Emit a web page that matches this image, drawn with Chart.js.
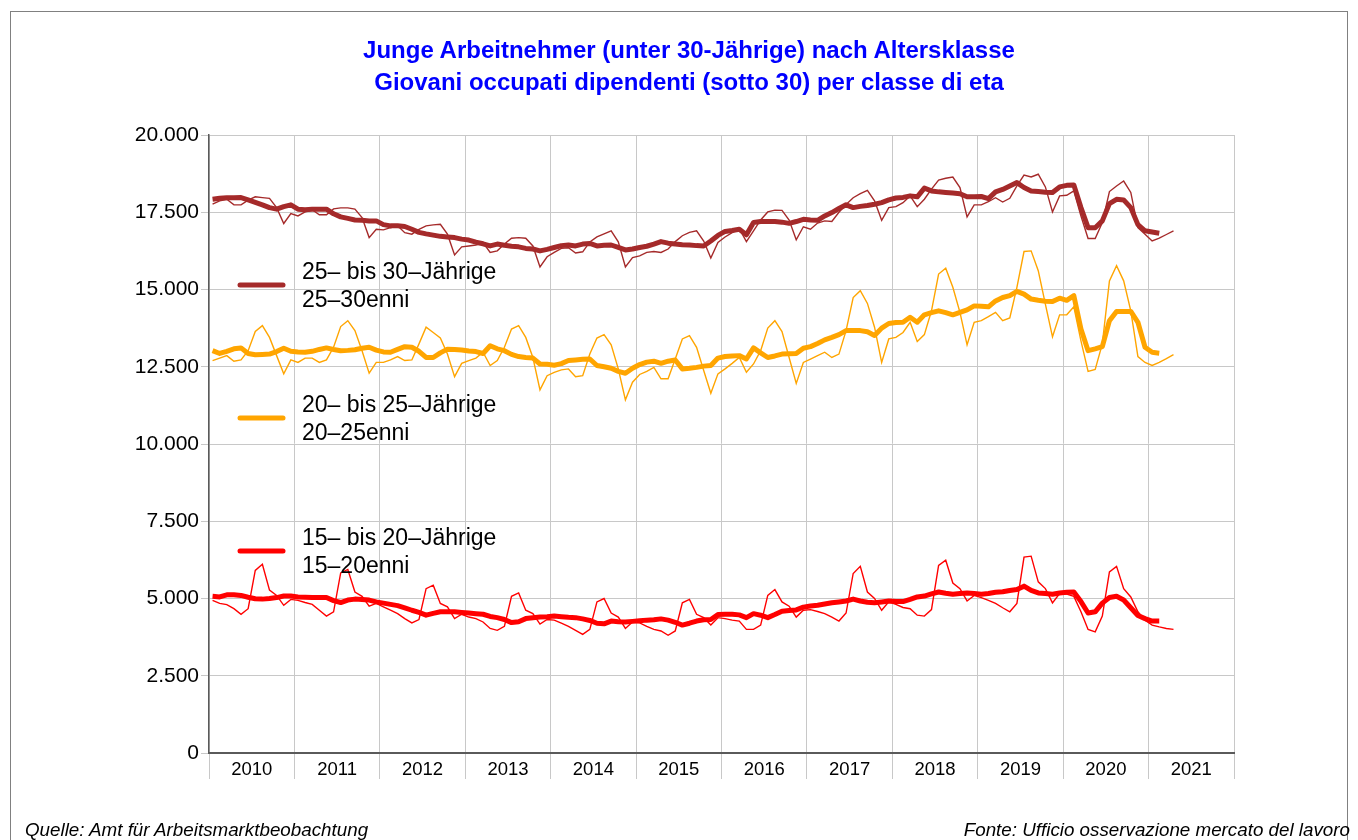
<!DOCTYPE html>
<html>
<head>
<meta charset="utf-8">
<title>Junge Arbeitnehmer nach Altersklasse</title>
<script src="https://cdn.jsdelivr.net/npm/chart.js@4.4.0/dist/chart.umd.min.js"></script>
<style>
  html, body { margin: 0; padding: 0; background: #fff; }
  #wrap { position: relative; width: 1358px; height: 840px; overflow: hidden; font-family: "Liberation Sans", Arial, sans-serif; }
  #frame { position: absolute; left: 10px; top: 11px; width: 1336px; height: 900px; border: 1px solid #808080; }
  #title { position: absolute; left: 189px; width: 1000px; top: 34px; text-align: center; color: #0000ff; font-weight: bold; font-size: 24px; line-height: 32px; }
  #chart { position: absolute; left: 0; top: 0; }
  .src { position: absolute; top: 819px; font-style: italic; font-size: 18.8px; line-height: 22px; color: #000; white-space: nowrap; }
</style>
</head>
<body>
<div id="wrap">
  <div id="frame"></div>
  <canvas id="chart" width="1358" height="840"></canvas>
  <div id="title">Junge Arbeitnehmer (unter 30-Jährige) nach Altersklasse<br>Giovani occupati dipendenti (sotto 30) per classe di eta</div>
  <div class="src" style="left:25px;">Quelle: Amt für Arbeitsmarktbeobachtung</div>
  <div class="src" style="right:8px;">Fonte: Ufficio osservazione mercato del lavoro</div>
</div>
<script>
// Jahre auf der x-Achse (Monatswerte ab Jänner 2010)
const yearLabels = ['2010', '2011', '2012', '2013', '2014', '2015', '2016', '2017', '2018', '2019', '2020', '2021'];

const seriesNamesDe = ['25– bis 30–Jährige', '20– bis 25–Jährige', '15– bis 20–Jährige'];
const seriesNamesIt = ['25–30enni', '20–25enni', '15–20enni'];
const seriesColors = ['#a52a2a', '#ffa500', '#ff0000'];

// 25-30: Monatswerte (dünn) und Trend (dick)
const age25to30Raw = [
  17760, 17870, 17920, 17740, 17740, 17890, 18000, 17975, 17950, 17650, 17135, 17460,
  17380, 17510, 17580, 17420, 17420, 17610, 17640, 17640, 17600, 17330, 16680, 16950,
  16930, 17000, 17060, 16840, 16790, 16950, 17060, 17090, 17110, 16790, 16120, 16380,
  16410, 16440, 16520, 16200, 16250, 16470, 16660, 16680, 16660, 16410, 15730, 16060,
  16200, 16330, 16350, 16180, 16220, 16540, 16700, 16800, 16900, 16540, 15730, 16030,
  16090, 16200, 16230, 16200, 16310, 16550, 16740, 16850, 16900, 16570, 16020, 16520,
  16700, 16840, 16970, 16550, 16900, 17250, 17510, 17570, 17560, 17250, 16610, 17030,
  16950, 17150, 17220, 17200, 17500, 17750, 17970, 18100, 18210, 17870, 17240, 17650,
  17680, 17810, 18030, 17680, 17920, 18250, 18540, 18600, 18640, 18300, 17350, 17740,
  17740, 17840, 17970, 17830, 17950, 18350, 18700, 18640, 18730, 18320, 17510, 18030,
  18050, 18190, 17380, 16650, 16650, 17170, 18170, 18350, 18510, 18140, 17000, 16790,
  16570, 16660, 16780, 16900
];
const age25to30Trend = [
  17920, 17950, 17970, 17970, 17975, 17900, 17820, 17740, 17650, 17600, 17680, 17740,
  17600, 17580, 17600, 17600, 17600, 17450, 17350, 17300, 17250, 17240, 17220, 17220,
  17100, 17060, 17060, 17040, 16950, 16850, 16800, 16760, 16720, 16700, 16680, 16630,
  16600, 16530, 16480, 16410, 16470, 16430, 16400, 16380, 16330, 16310, 16250, 16300,
  16360, 16420, 16440, 16410, 16470, 16490, 16410, 16430, 16440, 16360, 16280, 16310,
  16360, 16400, 16470, 16550, 16500, 16470, 16450, 16440, 16420, 16410, 16570, 16750,
  16880, 16910, 16950, 16770, 17170, 17200, 17200, 17200, 17180, 17140, 17200, 17270,
  17250, 17240, 17380, 17490, 17620, 17740, 17650, 17690, 17720, 17760, 17810, 17900,
  17960, 17980, 18030, 18000, 18280, 18190, 18160, 18140, 18120, 18100, 18000, 18000,
  18010, 17940, 18160, 18240, 18350, 18460, 18300, 18190, 18170, 18150, 18140, 18320,
  18370, 18380, 17650, 17000, 17000, 17220, 17780, 17920, 17900, 17650, 17100, 16900,
  16860, 16820
];

// 20-25
const age20to25Raw = [
  12700, 12780, 12860, 12680, 12720, 13020, 13640, 13830, 13450, 12860, 12270, 12720,
  12640, 12780, 12780, 12640, 12720, 13130, 13800, 13990, 13670, 13020, 12290, 12640,
  12640, 12720, 12830, 12700, 12720, 13240, 13780, 13610, 13430, 12910, 12180, 12610,
  12700, 12780, 12970, 12540, 12700, 13130, 13720, 13830, 13450, 12800, 11750, 12210,
  12320, 12400, 12430, 12180, 12210, 12910, 13430, 13540, 13210, 12430, 11430, 12000,
  12250, 12350, 12480, 12110, 12110, 12750, 13400, 13510, 13130, 12380, 11640, 12270,
  12430, 12610, 12800, 12320, 12590, 13020, 13750, 13990, 13640, 12800, 11960, 12640,
  12750, 12860, 12970, 12800, 12910, 13670, 14740, 14960, 14550, 13780, 12640, 13400,
  13450, 13610, 13940, 13320, 13540, 14310, 15500, 15690, 15070, 14260, 13210, 13940,
  13990, 14120, 14260, 13990, 14080, 15070, 16230, 16250, 15610, 14530, 13470, 14180,
  14180, 14440, 13340, 12350, 12410, 13240, 15280, 15770, 15280, 14310, 12830, 12640,
  12540, 12640, 12760, 12890
];
const age20to25Trend = [
  13020, 12930, 13000, 13080, 13110, 12930, 12890, 12900, 12910, 12990, 13100, 13000,
  12980, 12970, 13000, 13060, 13110, 13060, 13020, 13030, 13050, 13100, 13130, 13040,
  12980, 12970, 13060, 13150, 13130, 13000, 12800, 12800, 12950, 13070, 13060, 13040,
  13010, 12990, 12930, 13180, 13080, 13020, 12900, 12830, 12800, 12780, 12590, 12580,
  12550, 12600, 12700, 12720, 12740, 12750, 12540, 12500, 12450, 12350, 12290, 12450,
  12570, 12650, 12680, 12610, 12680, 12720, 12430, 12450, 12480, 12520, 12540, 12780,
  12830, 12850, 12860, 12750, 13110, 12950, 12800, 12850, 12910, 12920, 12930, 13100,
  13150, 13250, 13370, 13450, 13540, 13670, 13670, 13670, 13630, 13510, 13750, 13900,
  13930, 13940, 14100, 13940, 14180, 14250, 14310, 14250, 14180, 14260, 14340, 14470,
  14460, 14440, 14630, 14740, 14800, 14940, 14850, 14690, 14650, 14620, 14610, 14720,
  14650, 14800, 13720, 13020, 13080, 13150, 13990, 14290, 14290, 14290, 13940, 13130,
  12970, 12940
];

// 15-20
const age15to20Raw = [
  4940, 4840, 4800, 4670, 4490, 4670, 5910, 6110, 5270, 5100, 4780, 4970,
  4940, 4870, 4810, 4620, 4430, 4570, 5830, 5940, 5210, 5070, 4750, 4840,
  4730, 4620, 4510, 4350, 4210, 4320, 5320, 5430, 4840, 4730, 4350, 4490,
  4400, 4350, 4240, 4030, 3970, 4100, 5070, 5180, 4620, 4510, 4170, 4320,
  4300, 4200, 4100, 3970, 3840, 4000, 4890, 5000, 4530, 4400, 4030, 4240,
  4210, 4100, 4000, 3950, 3810, 3950, 4860, 4970, 4490, 4380, 4140, 4380,
  4350, 4300, 4270, 4000, 4000, 4140, 5100, 5290, 4890, 4750, 4400, 4620,
  4640, 4580, 4510, 4400, 4270, 4530, 5810, 6040, 5210, 5000, 4620, 4890,
  4810, 4710, 4670, 4460, 4430, 4640, 6070, 6240, 5500, 5320, 4920, 5100,
  5030, 4940, 4840, 4700, 4570, 4840, 6340, 6370, 5540, 5320, 4860, 5160,
  5140, 5070, 4570, 4000, 3920, 4430, 5860, 6040, 5320, 5050, 4570, 4300,
  4140, 4080, 4030, 4000
];
const age15to20Trend = [
  5070, 5050, 5120, 5120, 5100, 5040, 4990, 4980, 5000, 5030, 5080, 5080,
  5050, 5040, 5030, 5030, 5030, 4930, 4870, 4950, 4980, 4970, 4950, 4890,
  4850, 4810, 4770, 4700, 4620, 4550, 4460, 4520, 4570, 4570, 4570, 4550,
  4530, 4510, 4490, 4420, 4380, 4320, 4220, 4250, 4350, 4380, 4400, 4410,
  4430, 4410, 4390, 4380, 4340, 4290, 4200, 4180, 4270, 4250, 4240, 4260,
  4280, 4300, 4310, 4340, 4300, 4230, 4140, 4200, 4270, 4310, 4320, 4480,
  4490, 4490, 4470, 4380, 4510, 4460, 4380, 4480, 4590, 4610, 4630, 4720,
  4760, 4780, 4820, 4860, 4890, 4920, 4980, 4920, 4880, 4860, 4890, 4920,
  4900, 4900, 4970, 5050, 5080, 5150, 5210, 5170, 5140, 5160, 5180, 5160,
  5140, 5160, 5200, 5220, 5260, 5290, 5400, 5260, 5180, 5160, 5140, 5180,
  5200, 5210, 4900, 4530, 4570, 4850, 5030, 5070, 4950, 4700, 4450, 4350,
  4270, 4270
];

const yMax = 20000;
const yStep = 2500;

// Monatsindex -> Punkt in der Mitte des Monats
function toPoints(values) {
  return values.map((v, i) => ({ x: i + 0.5, y: v }));
}

function formatThousands(v) {
  return String(v).replace(/\B(?=(\d{3})+(?!\d))/g, '.');
}

const rawSeries = [age25to30Raw, age20to25Raw, age15to20Raw];
const trendSeries = [age25to30Trend, age20to25Trend, age15to20Trend];

const datasets = [];
seriesNamesDe.forEach((name, k) => {
  datasets.push({
    label: name,
    data: toPoints(trendSeries[k]),
    borderColor: seriesColors[k],
    borderWidth: 5,
    pointRadius: 0,
    tension: 0,
    borderJoinStyle: 'round',
    order: 0
  });
  datasets.push({
    label: name + ' (Monat)',
    data: toPoints(rawSeries[k]),
    borderColor: seriesColors[k],
    borderWidth: 1.4,
    pointRadius: 0,
    tension: 0,
    order: 1
  });
});

// Legende im Diagramm, links
const inlineLegend = {
  id: 'inlineLegend',
  afterDatasetsDraw(chart) {
    const c = chart.ctx;
    const area = chart.chartArea;
    c.save();
    c.font = '23px "Liberation Sans", Arial, sans-serif';
    c.textBaseline = 'middle';
    c.textAlign = 'left';
    seriesNamesDe.forEach((name, k) => {
      const y = area.top + 150 + k * 133;
      c.strokeStyle = seriesColors[k];
      c.lineWidth = 5;
      c.lineCap = 'round';
      c.beginPath();
      c.moveTo(area.left + 31, y);
      c.lineTo(area.left + 74, y);
      c.stroke();
      c.fillStyle = '#000';
      c.fillText(name, area.left + 93, y - 12);
      c.fillText(seriesNamesIt[k], area.left + 93, y + 16);
    });
    c.restore();
  }
};

const ctx = document.getElementById('chart').getContext('2d');
const chart = new Chart(ctx, {
  type: 'line',
  data: { datasets: datasets },
  plugins: [inlineLegend],
  options: {
    responsive: false,
    animation: false,
    layout: { padding: { left: 0, right: 124, top: 135, bottom: 47 } },
    plugins: {
      legend: { display: false },
      tooltip: { enabled: false },
      title: { display: false }
    },
    scales: {
      x: {
        type: 'linear',
        min: 0,
        max: yearLabels.length * 12,
        afterBuildTicks: (scale) => {
          const ticks = [];
          for (let v = 0; v <= yearLabels.length * 12; v += 6) ticks.push({ value: v });
          scale.ticks = ticks;
        },
        afterFit: (scale) => { scale.height = 40; },
        grid: {
          color: (c) => (c.tick && c.tick.value % 12 === 0) ? '#c8c8c8' : 'rgba(0,0,0,0)',
          lineWidth: 1,
          tickLength: 26,
          drawTicks: true
        },
        border: { color: '#5a5a5a', width: 2 },
        ticks: {
          autoSkip: false,
          maxRotation: 0,
          padding: -20,
          color: '#000',
          font: { family: '"Liberation Sans", Arial, sans-serif', size: 18.5 },
          callback: (v) => (v % 12 === 6) ? yearLabels[(v - 6) / 12] : ''
        }
      },
      y: {
        min: 0,
        max: yMax,
        afterFit: (scale) => { scale.width = 209; },
        grid: { color: '#c8c8c8', lineWidth: 1, tickLength: 8 },
        border: { color: '#5a5a5a', width: 1.5 },
        ticks: {
          stepSize: yStep,
          padding: 2,
          color: '#000',
          font: { family: '"Liberation Sans", Arial, sans-serif', size: 21 },
          callback: (v) => formatThousands(v)
        }
      }
    }
  }
});
</script>
</body>
</html>
